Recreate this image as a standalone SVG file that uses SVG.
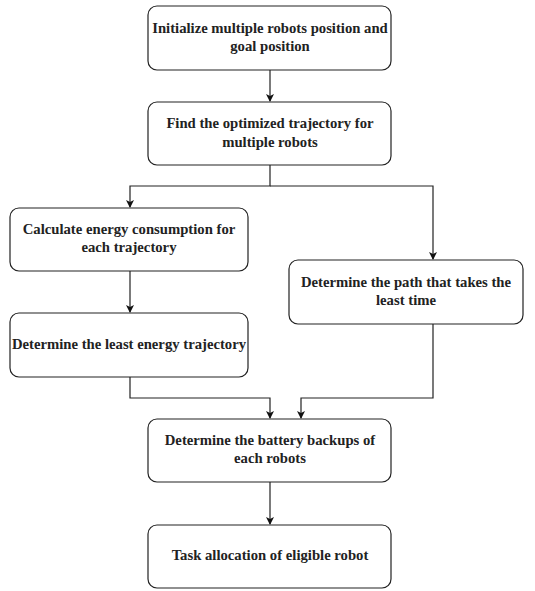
<svg xmlns="http://www.w3.org/2000/svg" width="535" height="591" viewBox="0 0 535 591">
<style>
.box{fill:#fff;stroke:#222;stroke-width:1.2}
.t{font-family:'Liberation Serif','Times New Roman',Times,serif;font-weight:700;font-size:14.7px;fill:#222;text-anchor:middle}
.c{fill:none;stroke:#222;stroke-width:1.2}
</style>
<defs>
<marker id="ah" markerWidth="8" markerHeight="8" refX="7" refY="4" orient="auto" markerUnits="userSpaceOnUse">
<path d="M0,0 L8,4 L0,8 L2,4 Z" fill="#111"/>
</marker>
</defs>
<rect width="535" height="591" fill="#fff"/>
<g id="connectors">
<path class="c" d="M270,70 V101" marker-end="url(#ah)"/>
<path class="c" d="M270,165 V186 H130 V207" marker-end="url(#ah)"/>
<path class="c" d="M270,186 H433 V259" marker-end="url(#ah)"/>
<path class="c" d="M130,271 V312" marker-end="url(#ah)"/>
<path class="c" d="M130,377 V398 H270 V418" marker-end="url(#ah)"/>
<path class="c" d="M433,324 V398 H301 V418" marker-end="url(#ah)"/>
<path class="c" d="M270,482 V524" marker-end="url(#ah)"/>
</g>
<g id="n1">
<rect class="box" x="148" y="6" width="243" height="64" rx="9"/>
<text class="t" x="270" y="33">Initialize multiple robots position and</text>
<text class="t" x="270" y="51">goal position</text>
</g>
<g id="n2">
<rect class="box" x="148" y="102" width="243" height="63" rx="9"/>
<text class="t" x="270" y="128">Find the optimized trajectory for</text>
<text class="t" x="270" y="147">multiple robots</text>
</g>
<g id="n3">
<rect class="box" x="10" y="208" width="238" height="63" rx="9"/>
<text class="t" x="129" y="234">Calculate energy consumption for</text>
<text class="t" x="129" y="252">each trajectory</text>
</g>
<g id="n4">
<rect class="box" x="10" y="313" width="238" height="64" rx="9"/>
<text class="t" x="129" y="349">Determine the least energy trajectory</text>
</g>
<g id="n5">
<rect class="box" x="289" y="260" width="234" height="64" rx="9"/>
<text class="t" x="406" y="287">Determine the path that takes the</text>
<text class="t" x="406" y="305">least time</text>
</g>
<g id="n6">
<rect class="box" x="148" y="419" width="243" height="63" rx="9"/>
<text class="t" x="270" y="445">Determine the battery backups of</text>
<text class="t" x="270" y="463">each robots</text>
</g>
<g id="n7">
<rect class="box" x="148" y="525" width="243" height="63" rx="9"/>
<text class="t" x="270" y="560">Task allocation of eligible robot</text>
</g>
</svg>
